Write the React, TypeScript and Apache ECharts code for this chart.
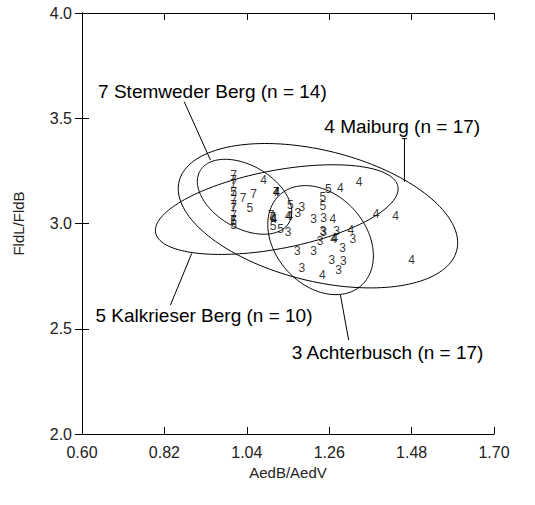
import { useEffect, useRef } from "react";
import * as echarts from "echarts";

// ---- axis ticks ----
const X0 = 0.6; // x axis starts at 0.60; values are shifted so ticks count from 0
const xTickLabels = ["0.60", "0.82", "1.04", "1.26", "1.48", "1.70"];
const yTickLabels = ["2.0", "2.5", "3.0", "3.5", "4.0"];
const xStep = 0.22;
const yStep = 0.5;

// ---- observations (AedB/AedV, FldL/FldB) ----
const stemweder7: [number, number][] = [
  [1.005, 3.229], [1.005, 3.205], [1.005, 3.15], [1.005, 3.11], [1.03, 3.122],
  [1.058, 3.138], [1.005, 3.072], [1.005, 3.04], [1.005, 3.015], [1.105, 3.04],
  [1.118, 3.152], [1.005, 3.188], [1.005, 3.09], [1.108, 3.03],
];
const kalkrieser5: [number, number][] = [
  [1.048, 3.072], [1.005, 3.012], [1.005, 2.995], [1.005, 3.15], [1.11, 2.99],
  [1.13, 2.975], [1.156, 3.09], [1.258, 3.163], [1.243, 3.125], [1.243, 3.082],
];
const maiburg4: [number, number][] = [
  [1.085, 3.205], [1.118, 3.152], [1.11, 3.027], [1.15, 3.034], [1.29, 3.17],
  [1.34, 3.198], [1.27, 3.022], [1.385, 3.045], [1.437, 3.034], [1.318, 2.969],
  [1.272, 2.927], [1.48, 2.828], [1.242, 2.756], [1.155, 3.036], [1.113, 3.022],
  [1.275, 2.93], [1.12, 3.15],
];
const achterbusch3: [number, number][] = [
  [1.187, 3.078], [1.218, 3.02], [1.245, 3.027], [1.243, 2.962], [1.245, 2.958],
  [1.28, 2.962], [1.323, 2.928], [1.236, 2.918], [1.15, 2.958], [1.175, 2.87],
  [1.218, 2.87], [1.296, 2.883], [1.267, 2.826], [1.298, 2.821], [1.285, 2.781],
  [1.187, 2.789], [1.176, 3.05],
];

// ---- ellipses: [centerX, centerY, halfWidth, halfHeight, covarianceXY] ----
const ellipseStemweder = [1.034, 3.127, 0.126, 0.178, -0.0092];
const ellipseMaiburg = [1.23, 3.037, 0.373, 0.343, -0.048];
const ellipseKalkrieser = [1.12, 3.066, 0.324, 0.213, 0.032];
const ellipseAchterbusch = [1.237, 2.921, 0.141, 0.259, -0.0105];

// ---- annotation texts and leader lines ----
const groupDigits = ["7", "5", "4", "3"];
const annotationTexts = [
  "7 Stemweder Berg (n = 14)",
  "4 Maiburg (n = 17)",
  "5 Kalkrieser Berg (n = 10)",
  "3 Achterbusch (n = 17)",
];
const annotationAnchors: [number, number][] = [
  [0.643, 3.625],
  [1.247, 3.459],
  [0.636, 2.565],
  [1.16, 2.386],
];
const leaderLines: [number, number][][] = [
  [[0.873, 3.578], [0.943, 3.301]],
  [[1.461, 3.403], [1.461, 3.198]],
  [[1.454, 3.403], [1.468, 3.403]],
  [[0.836, 2.612], [0.893, 2.858]],
  [[1.29, 2.66], [1.312, 2.446]],
];

const FONT = "'Liberation Sans', Arial, Helvetica, sans-serif";

export default function App() {
  const ref = useRef<HTMLDivElement>(null);
  useEffect(() => {
    if (!ref.current) return;
    const chart = echarts.init(ref.current, undefined, { renderer: "svg" });
    const shift = (p: [number, number]) => [p[0] - X0, p[1]];
    const groups = [stemweder7, kalkrieser5, maiburg4, achterbusch3];
    const ellipses = [ellipseStemweder, ellipseMaiburg, ellipseKalkrieser, ellipseAchterbusch].map((e) => [
      e[0] - X0, e[1], e[2], e[3], e[4],
    ]);
    const scatterSeries = groups.map((g, i) => ({
      type: "scatter",
      color: "#000",
      data: g.map(shift),
      symbol: "circle",
      symbolSize: 1,
      itemStyle: { color: "rgba(0,0,0,0)" },
      label: {
        show: true,
        position: [0.5, 0.5],
        align: "center",
        verticalAlign: "middle",
        formatter: groupDigits[i],
        fontSize: 12,
        fontFamily: FONT,
        color: "#000",
        textBorderWidth: 0,
      },
      labelLayout: { hideOverlap: false },
      silent: true,
      z: 3,
    }));
    const lineSeries = leaderLines.map((seg) => ({
      type: "line",
      data: seg.map(shift),
      symbol: "none",
      lineStyle: { color: "#000", width: 1 },
      silent: true,
      z: 2,
    }));
    const axisCommon = {
      type: "value",
      axisLine: { show: true, lineStyle: { color: "#000", width: 1 } },
      axisTick: { show: true, inside: true, length: 7, lineStyle: { color: "#000", width: 1 } },
      splitLine: { show: false },
    };
    chart.setOption({
      animation: false,
      backgroundColor: "#fff",
      grid: { left: 82, top: 13, width: 412, height: 421, containLabel: false },
      xAxis: [
        {
          ...axisCommon,
          position: "bottom",
          min: 0,
          max: 1.1,
          interval: xStep,
          axisLabel: {
            formatter: (v: number) => xTickLabels[Math.round(v / xStep)] ?? "",
            fontSize: 16,
            fontFamily: FONT,
            color: "#222",
            margin: 10,
          },
          name: "AedB/AedV",
          nameLocation: "middle",
          nameGap: 25,
          nameTextStyle: { fontSize: 15, fontFamily: FONT, color: "#222" },
        },
        {
          ...axisCommon,
          position: "top",
          min: 0,
          max: 1.1,
          interval: xStep,
          axisLabel: { show: false },
        },
      ],
      yAxis: [
        {
          ...axisCommon,
          position: "left",
          min: 2,
          max: 4,
          interval: yStep,
          axisLabel: {
            formatter: (v: number) => yTickLabels[Math.round((v - 2) / yStep)] ?? "",
            fontSize: 16,
            fontFamily: FONT,
            color: "#222",
            margin: 10,
          },
          name: "FldL/FldB",
          nameLocation: "middle",
          nameGap: 56,
          nameTextStyle: { fontSize: 15, fontFamily: FONT, color: "#222" },
        },
        {
          ...axisCommon,
          position: "right",
          min: 2,
          max: 4,
          interval: yStep,
          axisLabel: { show: false },
        },
      ],
      series: [
        {
          type: "custom",
          coordinateSystem: "cartesian2d",
          data: ellipses,
          encode: { x: 0, y: 1 },
          silent: true,
          z: 1,
          renderItem: (_params: any, api: any) => {
            const cx = api.value(0);
            const cy = api.value(1);
            const rx = api.value(2);
            const ry = api.value(3);
            const sxy = api.value(4);
            const l21 = sxy / rx;
            const l22 = Math.sqrt(Math.max(ry * ry - l21 * l21, 0));
            const pts: number[][] = [];
            for (let i = 0; i <= 160; i++) {
              const t = (i / 160) * Math.PI * 2;
              pts.push(api.coord([cx + rx * Math.cos(t), cy + l21 * Math.cos(t) + l22 * Math.sin(t)]));
            }
            return {
              type: "polygon",
              shape: { points: pts },
              style: { fill: "none", stroke: "#000", lineWidth: 1 },
            };
          },
        },
        ...lineSeries,
        ...scatterSeries,
      ],
    });
    const graphics = annotationTexts.map((t, i) => {
      const p = chart.convertToPixel({ gridIndex: 0 }, shift(annotationAnchors[i])) as number[];
      return {
        type: "text",
        x: p[0],
        y: p[1],
        silent: true,
        z: 10,
        style: {
          text: t,
          fontSize: 19,
          fontFamily: FONT,
          fill: "#000",
          align: "left",
          verticalAlign: "middle",
        },
      };
    });
    chart.setOption({ graphic: graphics });
    return () => chart.dispose();
  }, []);
  return (
    <div
      ref={ref}
      style={{ position: "absolute", left: 0, top: 0, width: 535, height: 505, background: "#fff" }}
    />
  );
}
